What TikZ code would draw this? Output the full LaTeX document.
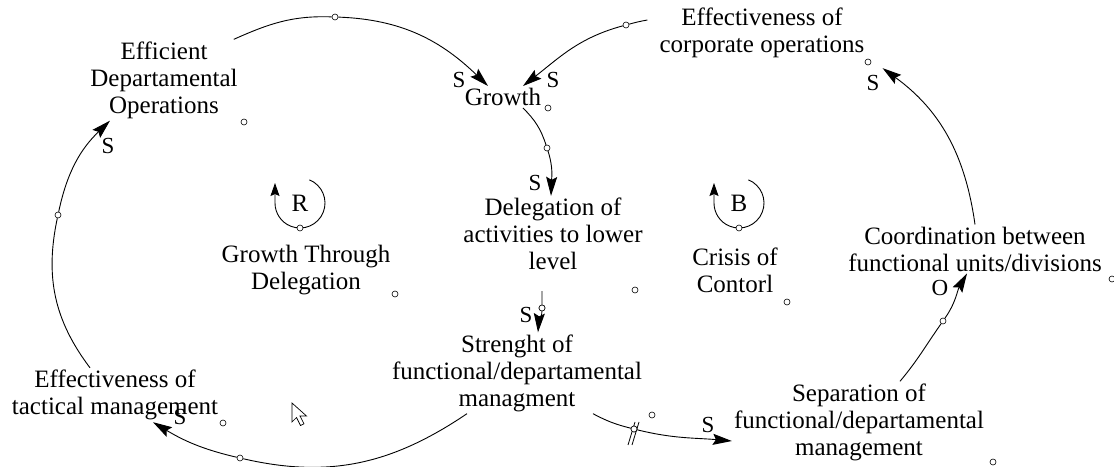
\documentclass[tikz,border=0pt]{standalone}
\usepackage{fontspec}
\setmainfont{Liberation Serif}
\usetikzlibrary{arrows.meta}

\tikzset{
  var/.style={align=center, inner sep=2pt, font=\fontsize{25}{27}\selectfont},
  sgn/.style={inner sep=0pt, font=\fontsize{23}{25}\selectfont},
  link/.style={line width=0.9pt, -{Stealth[length=19pt,width=11pt,inset=3pt]}},
  loopar/.style={line width=0.9pt, -{Stealth[length=13pt,width=9pt,inset=2pt]}},
  hnd/.style={circle, draw, fill=white, line width=0.6pt, inner sep=0pt, minimum size=6pt},
}

\begin{document}
\begin{tikzpicture}[x=1pt,y=1pt]
	\useasboundingbox (0,0) rectangle (1114,466);

	% variables
	\node[var] (eff)      at (164,386) {Efficient\\Departamental\\Operations};
	\node[var] (grow)     at (503,369) {Growth};
	\node[var] (corp)     at (762,433) {Effectiveness of\\corporate operations};
	\node[var] (deleg)    at (553,232) {Delegation of\\activities to lower\\level};
	\node[var] (strength) at (517,93)  {Strenght of\\functional/departamental\\managment};
	\node[var] (separ)    at (859,44)  {Separation of\\functional/departamental\\management};
	\node[var] (coord)    at (975,217) {Coordination between\\functional units/divisions};
	\node[var] (tactical) at (115,71)  {Effectiveness of\\tactical management};

	% loop names
	\node[var] (rname) at (306,196) {Growth Through\\Delegation};
	\node[var] (bname) at (735,196) {Crisis of\\Contorl};
	\node[var, inner sep=0pt] (rsym) at (300,263) {R};
	\node[var, inner sep=0pt] (bsym) at (739,263) {B};
	\draw[loopar] ([shift={(68:25)}]rsym.center) arc[start angle=68, end angle=-180, radius=25] -- ++(0,20);
	\draw[loopar] ([shift={(68:25)}]bsym.center) arc[start angle=68, end angle=-180, radius=25] -- ++(0,20);
	\node[hnd] (hloopR) at (300,238) {};
	\node[hnd] (hloopB) at (739,238) {};

	% handles on the links
	\node[hnd] (hEG) at (335,449) {};
	\node[hnd] (hCG) at (626,441) {};
	\node[hnd] (hGD) at (547,318) {};
	\node[hnd] (hDS) at (542,158) {};
	\node[hnd] (hSS) at (634,37)  {};
	\node[hnd] (hSC) at (943,145) {};
	\node[hnd] (hST) at (240,8)   {};
	\node[hnd] (hTE) at (58,251)  {};

	% links
	\draw[link] ([xshift=-6pt]eff.north east) to[out=24,in=178] (hEG) to[out=-2,in=136] ([xshift=-15pt]grow.north);
	\draw[link] ([shift={(-10,13)}]corp.west) to[out=190,in=15] (hCG) to[out=195,in=38] ([xshift=20pt]grow.north);
	\draw[link] ([xshift=20pt]grow.south) to[out=-45,in=108] (hGD) to[out=-72,in=88] ([xshift=-2pt]deleg.north);
	\draw[link] ([shift={(-11,-19)}]deleg.south) to[out=-90,in=90] (hDS) to[out=-92,in=86] ([xshift=21pt]strength.north);
	\draw[link] ([xshift=76pt]strength.south) to[out=-28,in=166] (hSS) to[out=-14,in=175] ([yshift=-19pt]separ.west);
	\draw[link] ([xshift=41pt]separ.north) to[out=50,in=235] (hSC) to[out=55,in=240] ([xshift=-8pt]coord.south);
	\draw[link] (coord.north) to[out=98,in=-36] ([shift={(16,-8)}]corp.south east);
	\draw[link] ([xshift=-50pt]strength.south) to[out=214,in=-13] (hST) to[out=167,in=-31] ([xshift=38pt]tactical.south);
	\draw[link] ([xshift=-25pt]tactical.north) to[out=127,in=-102] (hTE) to[out=78,in=-136] ([xshift=-54pt]eff.south);
	\node[hnd] at (hDS) {};

	% delay mark
	\draw[line width=0.8pt] ([shift={(-6,-16)}]hSS.center) -- ++(7,23);
	\draw[line width=0.8pt] ([shift={(-2,-16)}]hSS.center) -- ++(7,23);
	\node[hnd] at (hSS) {};

	% polarities
	\node[sgn] (s1) at (459,386) {S};
	\node[sgn] (s2) at (553,386) {S};
	\node[sgn] (s3) at (535,283) {S};
	\node[sgn] (s4) at (526,151) {S};
	\node[sgn] (s5) at (708,41)  {S};
	\node[sgn] (s6) at (873,383) {S};
	\node[sgn] (s7) at (180,49)  {S};
	\node[sgn] (s8) at (108,320) {S};
	\node[sgn] (o1) at (940,178) {O};

	% loose handles
	\node[hnd] (d1)  at (244,344) {};
	\node[hnd] (d2)  at (548,358) {};
	\node[hnd] (d3)  at (868,404) {};
	\node[hnd] (d4)  at (1112,187) {};
	\node[hnd] (d5)  at (787,164) {};
	\node[hnd] (d6)  at (635,176) {};
	\node[hnd] (d7)  at (395,172) {};
	\node[hnd] (d8)  at (223,43)  {};
	\node[hnd] (d9)  at (652,51)  {};
	\node[hnd] (d10) at (993,4)   {};

	% pointer
	\draw[line width=0.7pt, fill=white] (292,63) -- ++(0,-19) -- ++(4.5,4.5) -- ++(4,-8) -- ++(3.5,1.7) -- ++(-4,7.8) -- ++(6.5,0) -- cycle;
\end{tikzpicture}
\end{document}
